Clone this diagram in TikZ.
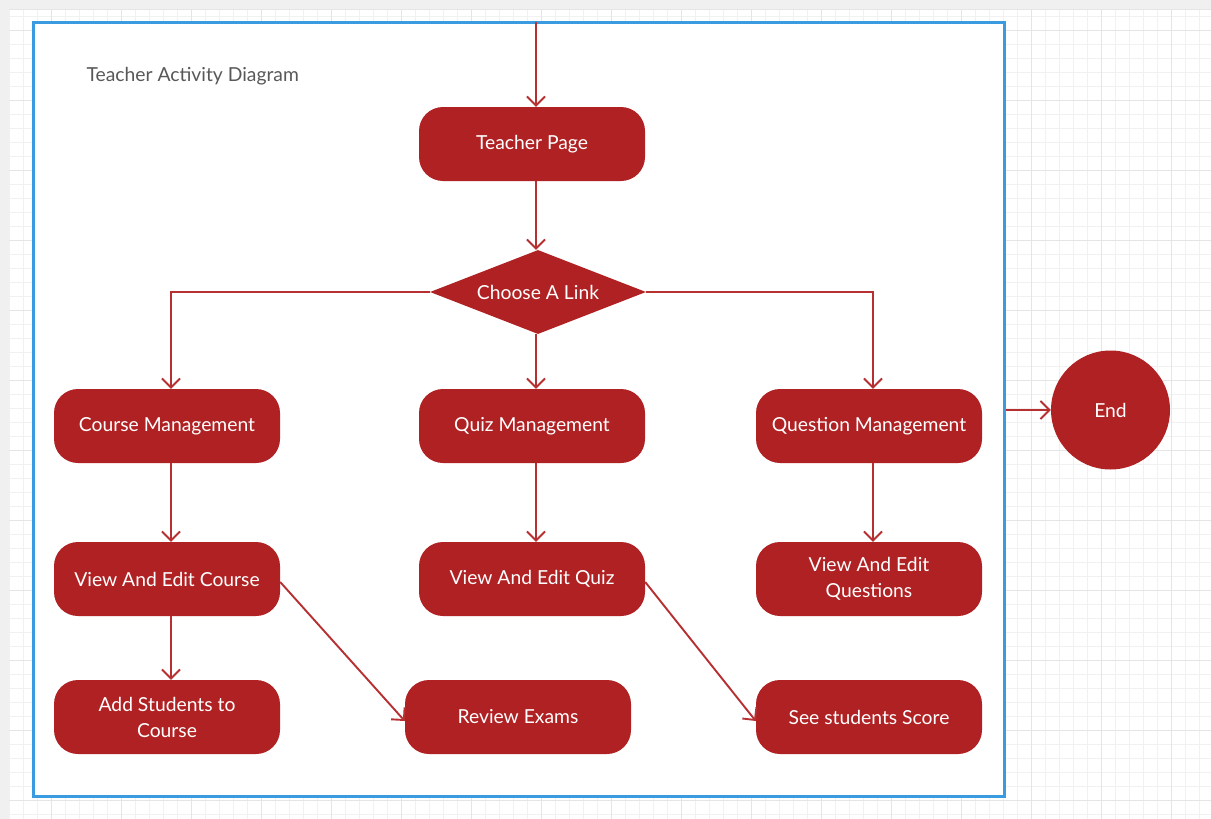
\documentclass[tikz,border=0pt]{standalone}
\usepackage{fontspec}
\setmainfont{Lato}
\usetikzlibrary{shapes.geometric,arrows.meta}

\definecolor{boxred}{RGB}{176,33,35}
\definecolor{linered}{RGB}{182,48,50}
\definecolor{frameblue}{RGB}{58,155,224}
\definecolor{gridminor}{RGB}{241,241,241}
\definecolor{gridmajor}{RGB}{229,229,229}
\definecolor{canvasgray}{RGB}{240,240,240}
\definecolor{titlegray}{RGB}{88,88,88}

\begin{document}
\begin{tikzpicture}[x=1pt,y=-1pt,
  activity/.style={fill=boxred, text=white, rounded corners=24pt,
    minimum width=226pt, minimum height=74pt, inner sep=0pt,
    align=center, font=\fontsize{19.3}{26}\selectfont},
  decision/.style={diamond, aspect=2.571, fill=boxred, text=white,
    minimum width=216pt, minimum height=84pt, inner sep=0pt,
    font=\fontsize{19.3}{26}\selectfont},
  final/.style={circle, fill=boxred, text=white, minimum size=119pt,
    inner sep=0pt, font=\fontsize{19.3}{26}\selectfont},
  container/.style={draw=frameblue, line width=3pt, fill=white,
    minimum width=971pt, minimum height=774pt, inner sep=0pt},
  flow/.style={draw=linered, line width=1.9pt,
    -{Straight Barb[length=9pt,width=18pt]}},
]
\useasboundingbox (0,0) rectangle (1211,819);

% canvas with its grid
\fill[canvasgray] (0,0) rectangle (1211,819);
\fill[white] (9,10) rectangle (1211,819);
\draw[gridmajor, line width=1pt] (9,9.5) -- (1211,9.5);
\begin{scope}
  \clip (9,10) rectangle (1211,819);
  \foreach \k in {0,...,86}
    \draw[gridminor, line width=1pt] ({9.3+14*\k},10) -- ({9.3+14*\k},819);
  \foreach \k in {0,...,58}
    \draw[gridminor, line width=1pt] (9,{2+14*\k}) -- (1211,{2+14*\k});
  \foreach \m in {0,...,16}
    \draw[gridmajor, line width=1pt] ({51.3+70*\m},10) -- ({51.3+70*\m},819);
  \foreach \m in {0,...,11}
    \draw[gridmajor, line width=1pt] (9,{30+70*\m}) -- (1211,{30+70*\m});
\end{scope}

% swimlane frame
\node[container] (frame) at (518.5,409) {};
\node[anchor=west, text=titlegray, font=\fontsize{19.3}{22}\selectfont]
  (title) at (83,76) {Teacher Activity Diagram};

% activities
\node[activity] (tp)   at (532,144) {Teacher Page};
\node[decision] (link) at (538,292) {Choose A Link};

\node[activity] (cm)   at (167,426) {Course Management};
\node[activity] (qzm)  at (532,426) {Quiz Management};
\node[activity] (qnm)  at (869,426) {Question Management};

\node[activity] (vec)  at (167,579) {View And Edit Course};
\node[activity] (veq)  at (532,579) {View And Edit Quiz};
\node[activity] (veqs) at (869,579) {View And Edit\\Questions};

\node[activity] (ast)  at (167,717) {Add Students to\\Course};
\node[activity] (rev)  at (518,717) {Review Exams};
\node[activity] (sss)  at (869,717) {See students Score};

\node[final] (end) at (1110.5,410) {End};

% connectors
\coordinate (entry) at (536,22);
\draw[flow] (entry) -- ([xshift=4pt]tp.north);
\draw[flow] ([xshift=4pt]tp.south) -- ([xshift=-2pt]link.north);
\draw[flow] (link.west) -| ([xshift=4pt]cm.north);
\draw[flow] ([xshift=-2pt]link.south) -- ([xshift=4pt]qzm.north);
\draw[flow] (link.east) -| ([xshift=4pt]qnm.north);

\draw[flow] ([xshift=4pt]cm.south)  -- ([xshift=4pt]vec.north);
\draw[flow] ([xshift=4pt]qzm.south) -- ([xshift=4pt]veq.north);
\draw[flow] ([xshift=4pt]qnm.south) -- ([xshift=4pt]veqs.north);
\draw[flow] ([xshift=4pt]vec.south) -- ([xshift=4pt]ast.north);

\draw[flow] ([yshift=-3pt]vec.east) -- ([yshift=-4pt]rev.west);
\draw[flow] ([yshift=-3pt]veq.east) -- ([yshift=-4pt]sss.west);

\draw[flow] (frame.east |- end.west) -- (end.west);
\end{tikzpicture}
\end{document}
